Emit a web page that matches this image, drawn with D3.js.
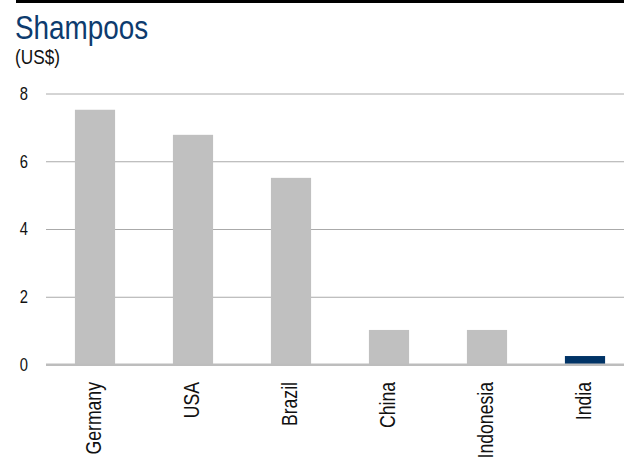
<!DOCTYPE html>
<html>
<head>
<meta charset="utf-8">
<script src="https://cdnjs.cloudflare.com/ajax/libs/d3/7.8.5/d3.min.js"></script>
<style>
  body { margin: 0; background: #fff; }
  svg text { font-family: "Liberation Sans", Arial, sans-serif; }
</style>
</head>
<body>
<script>
var countries = ["Germany", "USA", "Brazil", "China", "Indonesia", "India"];
var prices = [7.52, 6.78, 5.51, 1.02, 1.02, 0.25];
var yTicks = [0, 2, 4, 6, 8];
var highlight = "India";

var width = 624, height = 457;
var plot = {left: 46, right: 624, top: 93.5, bottom: 364.5};
var narrow = 0.82; // no condensed font installed, so squeeze the regular one

var svg = d3.select("body").append("svg")
    .attr("width", width)
    .attr("height", height);

// black rule at the top
svg.append("line")
    .attr("x1", 16).attr("x2", width)
    .attr("y1", 1.5).attr("y2", 1.5)
    .style("stroke", "#000")
    .style("stroke-width", 3);

svg.append("text")
    .attr("transform", "translate(15,39) scale(" + narrow + ",1)")
    .style("font-size", "34px")
    .style("fill", "#0d3b6e")
    .text("Shampoos");

svg.append("text")
    .attr("transform", "translate(15,64) scale(" + narrow + ",1)")
    .style("font-size", "21px")
    .style("fill", "#111")
    .text("(US$)");

var xScale = d3.scaleBand()
    .domain(countries)
    .range([plot.left, 634]) // last band runs past the edge, as in the original
    .paddingInner(0.59)
    .paddingOuter(0.295);

var yScale = d3.scaleLinear()
    .domain([0, 8])
    .range([plot.bottom, plot.top]);

// y axis + gridlines
var yAxis = svg.append("g")
    .attr("class", "y axis")
    .attr("transform", "translate(" + plot.left + ",0)")
    .call(d3.axisLeft(yScale)
        .tickValues(yTicks)
        .tickSize(-(plot.right - plot.left))
        .tickPadding(18)
        .tickFormat(d3.format("d")));

yAxis.select(".domain").remove();
yAxis.selectAll(".tick line")
    .style("stroke", function (d) { return d === 0 ? "#bdbdbd" : "#aaaaaa"; })
    .style("stroke-width", function (d) { return d === 0 ? 2 : 1; });
yAxis.selectAll(".tick text")
    .attr("x", 0)
    .attr("transform", "translate(-18,0) scale(" + narrow + ",1)")
    .style("font-size", "18px")
    .style("fill", "#111");

// bars
svg.selectAll(".bar")
    .data(countries)
    .enter().append("rect")
    .attr("class", "bar")
    .attr("x", function (d) { return xScale(d); })
    .attr("width", xScale.bandwidth())
    .attr("y", function (d, i) { return yScale(prices[i]); })
    .attr("height", function (d, i) { return yScale(0) - yScale(prices[i]); })
    .style("fill", function (d) { return d === highlight ? "#003366" : "#c0c0c0"; });

// redraw the baseline over the bars
svg.append("line")
    .attr("x1", plot.left).attr("x2", plot.right)
    .attr("y1", yScale(0)).attr("y2", yScale(0))
    .style("stroke", "#bdbdbd")
    .style("stroke-width", 2);

// x axis, rotated labels
var xAxis = svg.append("g")
    .attr("class", "x axis")
    .attr("transform", "translate(0," + plot.bottom + ")")
    .call(d3.axisBottom(xScale).tickSize(0).tickPadding(0));

xAxis.select(".domain").remove();
xAxis.selectAll(".tick text")
    .attr("transform", "translate(0,17.5) rotate(-90) scale(" + narrow + ",1)")
    .attr("x", 0)
    .attr("y", 0)
    .attr("dy", "0.3em")
    .style("text-anchor", "end")
    .style("font-size", "21.5px")
    .style("fill", "#111");
</script>
</body>
</html>
